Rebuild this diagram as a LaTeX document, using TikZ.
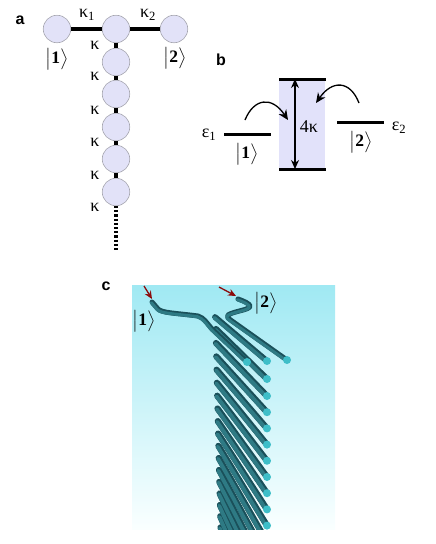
\documentclass[tikz,border=0pt]{standalone}
\usepackage{fontspec}
\setmainfont{Liberation Serif}
\newfontfamily\panelfont{Liberation Sans}[BoldFont={Liberation Sans Bold}]
\usetikzlibrary{arrows.meta}
\definecolor{sitefill}{RGB}{226,226,248}
\definecolor{siteedge}{RGB}{165,165,175}
\definecolor{bandfill}{RGB}{226,226,250}
\definecolor{bgtop}{RGB}{160,233,243}
\definecolor{bgbot}{RGB}{250,255,255}
\definecolor{roddark}{RGB}{26,80,90}
\definecolor{rodmid}{RGB}{46,122,132}
\definecolor{rodcap}{RGB}{62,190,200}
\definecolor{arrowred}{RGB}{140,12,12}
\newcommand{\myket}[1]{$\bigl|\mbox{\textbf{#1}}\bigr\rangle$}
\newcommand{\mytube}[2][6.2pt]{%
  \draw[roddark,line width=#1,line cap=round,line join=round] #2;
  \draw[rodmid,line width=#1*0.62,line cap=round,line join=round,transform canvas={xshift=-0.7pt,yshift=-0.7pt}] #2;}
\tikzset{
  site/.style={circle,draw=siteedge,line width=0.6pt,fill=sitefill,minimum size=27.5pt,inner sep=0pt},
  bond/.style={line width=3.2pt,black},
  lab/.style={font=\fontsize{18}{20}\selectfont,inner sep=0pt},
  panel/.style={font=\panelfont\bfseries\fontsize{16}{18}\selectfont,inner sep=0pt},
  ket/.style={scale=1.75,inner sep=0pt},
  level/.style={line width=3pt,black},
  hop/.style={line width=1.3pt,-{Stealth[length=10pt,width=9pt]}},
  redarrow/.style={arrowred,line width=1.3pt,-{Stealth[length=8pt,width=7pt]}},
}
\begin{document}
\begin{tikzpicture}[x=1pt,y=-1pt]
\useasboundingbox (0,0) rectangle (436,544);
% panel a
\coordinate (chainend) at (116,250);
\node[site] (s1) at (57,29) {};
\node[site] (s0) at (116,29) {};
\node[site] (s2) at (174,29) {};
\node[site] (c1) at (116,62) {};
\node[site] (c2) at (116,94) {};
\node[site] (c3) at (116,127) {};
\node[site] (c4) at (116,159) {};
\node[site] (c5) at (116,192) {};
\draw[bond] (s1) -- (s0);
\draw[bond] (s0) -- (s2);
\draw[bond] (s0) -- (c1);
\draw[bond] (c1) -- (c2);
\draw[bond] (c2) -- (c3);
\draw[bond] (c3) -- (c4);
\draw[bond] (c4) -- (c5);
\draw[line width=3.4pt,dash pattern=on 2.2pt off 2pt] (c5) -- (chainend);
\node[panel] (la) at (20,20) {a};
\node[lab] (k1) at (87,15) {κ\textsubscript{1}};
\node[lab] (k2) at (148,15) {κ\textsubscript{2}};
\node[lab] (k3) at (95,45) {κ};
\node[lab] (k4) at (95,76) {κ};
\node[lab] (k5) at (95,110) {κ};
\node[lab] (k6) at (95,142) {κ};
\node[lab] (k7) at (95,175) {κ};
\node[lab] (k8) at (95,207) {κ};
\node[ket] (ka1) at (57,59) {\myket{1}};
\node[ket] (ka2) at (175,58) {\myket{2}};
% panel b
\node[panel] (lb) at (221,60) {b};
\fill[bandfill] (279,79) rectangle (325,169);
\coordinate (t1) at (279,79);
\coordinate (t2) at (326,79);
\coordinate (b1) at (279,169);
\coordinate (b2) at (326,169);
\coordinate (tm) at (295,79);
\coordinate (bm) at (295,169);
\coordinate (l1) at (224,134);
\coordinate (l2) at (271,134);
\coordinate (r1) at (337,122);
\coordinate (r2) at (384,122);
\draw[level] (t1) -- (t2);
\draw[level] (b1) -- (b2);
\draw[level] (l1) -- (l2);
\draw[level] (r1) -- (r2);
\draw[line width=1.3pt,{Stealth[length=9pt,width=8pt]}-{Stealth[length=9pt,width=8pt]}] (tm) -- (bm);
\coordinate (h1a) at (245,120);
\coordinate (h1b) at (288,120);
\coordinate (h2a) at (359,103);
\coordinate (h2b) at (316,103);
\draw[hop] (h1a) .. controls (254,98) and (272,96) .. (h1b);
\draw[hop] (h2a) .. controls (350,80) and (332,80) .. (h2b);
\node[lab] (fk) at (309,127) {4κ};
\node[lab] (e1) at (209,135) {ε\textsubscript{1}};
\node[lab] (e2) at (399,128) {ε\textsubscript{2}};
\node[ket] (kb1) at (247,154) {\myket{1}};
\node[ket] (kb2) at (361,142) {\myket{2}};
% panel c
\node[panel] (lc) at (106,286) {c};
\shade[top color=bgtop,bottom color=bgbot] (132,285) rectangle (335,529);
\begin{scope}
\clip (132,285) rectangle (335,529);
\foreach \k in {15,14,...,0}{
  \pgfmathsetmacro{\sy}{343+13.5*\k-0.08*\k*\k}
  \pgfmathsetmacro{\sx}{216+0.3*\k}
  \pgfmathsetmacro{\ey}{396+16.2*\k}
  \mytube{(\sx,\sy) -- (267,\ey)}
  \fill[rodcap] (267,\ey) circle (4);
}
\mytube{(216,329) -- (267,379)}
\fill[rodcap] (267,379) circle (4);
\mytube[5.8pt]{(215,317) -- (267,361)}
\fill[rodcap] (267,361) circle (4);
\mytube[5pt]{(238,299) .. controls (244,301) and (250,304) .. (250,306) .. controls (250,310) and (234,311) .. (228,315) .. controls (226,317) and (228,318) .. (232,321) -- (287,360)}
\fill[rodcap] (287,360) circle (4);
\mytube[5pt]{(152,302) -- (158,309) .. controls (162,313) and (175,313) .. (198,316) .. controls (204,318) and (206,322) .. (212,329) -- (247,362)}
\fill[rodcap] (247,362) circle (4);
\end{scope}
\coordinate (ra1) at (144,286);
\coordinate (ra2) at (152,299);
\coordinate (rb1) at (219,287);
\coordinate (rb2) at (236,296);
\draw[redarrow] (ra1) -- (ra2);
\draw[redarrow] (rb1) -- (rb2);
\node[ket] (kc1) at (144,321) {\myket{1}};
\node[ket] (kc2) at (266,303) {\myket{2}};
\end{tikzpicture}
\end{document}
